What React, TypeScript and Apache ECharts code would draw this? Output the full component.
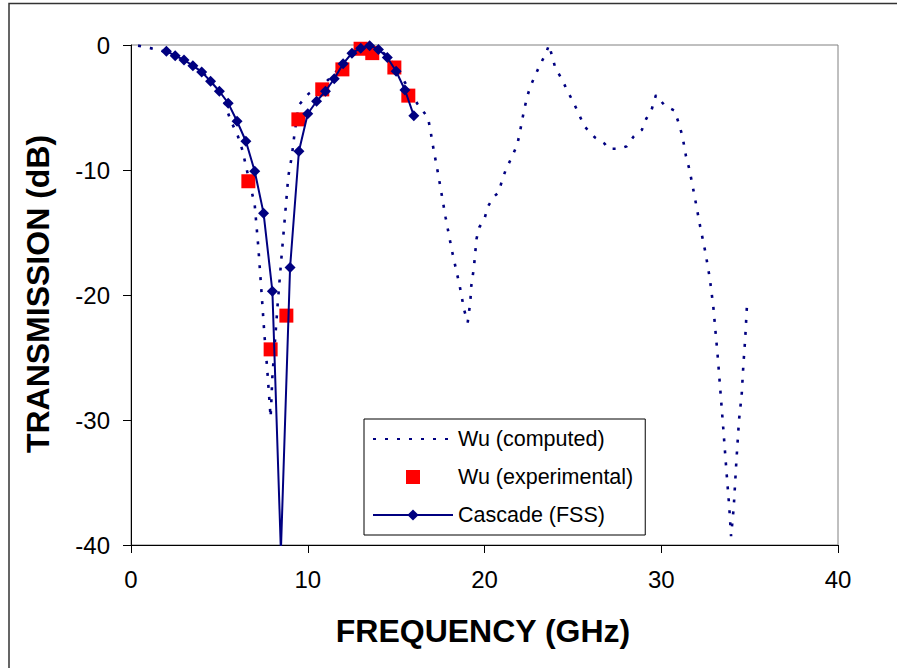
import { useEffect, useRef } from "react";
import * as echarts from "echarts";

const FONT = "'Liberation Sans', Arial, sans-serif";

const seriesNames = ["Wu (computed)", "Wu (experimental)", "Cascade (FSS)"];

const computedFreq = [
  0.4, 1.1, 1.7, 2.2, 2.7, 3.2, 3.7, 4.2, 4.7, 5.2, 5.6, 6.05, 6.3, 7.0, 7.2, 7.4, 7.55, 7.7, 7.9,
  8.0, 8.3, 8.5, 8.7, 8.9, 9.1, 9.25, 9.5, 10.05, 10.6, 11.0, 11.5, 12.0, 12.5, 13.0, 13.5, 14.0,
  14.5, 15.0, 15.5, 16.2, 16.8, 16.95, 17.05, 17.4, 17.8, 18.15, 18.6, 18.85, 19.05, 19.2, 19.25,
  19.4, 19.55, 19.7, 20.0, 20.2, 20.55, 20.8, 21.0, 21.2, 21.5, 21.85, 22.0, 22.2, 22.4, 22.6,
  22.85, 23.15, 23.45, 23.65, 24.0, 24.4, 24.7, 25.0, 25.3, 25.65, 26.25, 26.8, 27.0, 27.65,
  28.05, 28.45, 28.9, 29.15, 29.45, 29.7, 30.2, 30.75, 31.0, 31.2, 31.4, 31.6, 31.9, 32.2, 32.5,
  32.75, 32.95, 33.2, 33.5, 33.7, 33.85, 33.95, 34.1, 34.25, 34.4, 34.55, 34.65, 34.75, 34.85,
];
const computedDb = [
  -0.05, -0.25, -0.45, -0.65, -1.0, -1.35, -1.8, -2.4, -3.2, -4.2, -5.9, -7.3, -8.4, -12.8, -16.1,
  -20.1, -23.2, -25.8, -29.8, -26.5, -20.7, -17.2, -13.9, -10.5, -8.9, -7.1, -4.8, -3.9, -3.4,
  -3.0, -2.3, -1.5, -0.7, -0.2, -0.05, -0.3, -0.9, -1.8, -3.0, -4.7, -5.8, -6.9, -7.8, -10.5,
  -13.8, -16.4, -19.3, -21.2, -22.2, -20.5, -19.3, -17.8, -15.5, -14.6, -13.9, -12.9, -12.1,
  -11.8, -10.8, -10.0, -9.1, -8.0, -7.0, -5.5, -4.2, -3.3, -2.5, -1.55, -0.75, 0, -1.8, -2.8,
  -3.7, -4.5, -5.4, -6.5, -7.4, -7.9, -8.3, -8.3, -8.1, -7.3, -6.8, -5.9, -5.2, -4.0, -4.85,
  -5.25, -6.3, -7.3, -8.9, -10.0, -12.2, -14.5, -16.6, -18.7, -21.0, -25.0, -30.5, -34.3, -37.0,
  -39.3, -37.0, -33.3, -30.0, -28.0, -25.5, -23.5, -20.8,
];

const experimentalFreq = [6.64, 7.9, 8.79, 9.47, 10.82, 11.96, 12.99, 13.65, 14.9, 15.69];
const experimentalDb = [-10.9, -24.35, -21.65, -5.95, -3.55, -1.95, -0.3, -0.65, -1.8, -4.05];

const cascadeFreq = [
  2.0, 2.5, 3.0, 3.5, 4.0, 4.5, 5.0, 5.5, 6.0, 6.5, 7.0, 7.5, 8.0, 8.48, 9.0, 9.5, 10.0, 10.5,
  11.0, 11.5, 12.0, 12.5, 13.0, 13.5, 14.0, 14.5, 15.0, 15.5, 16.0,
];
const cascadeDb = [
  -0.5, -0.85, -1.2, -1.65, -2.15, -2.9, -3.7, -4.65, -6.1, -7.7, -10.1, -13.45, -19.7, -40.5,
  -17.8, -8.5, -5.5, -4.5, -3.7, -2.7, -1.5, -0.65, -0.25, -0.05, -0.35, -1.0, -2.1, -3.6, -5.65,
];

const xTicks = { min: 0, max: 40, interval: 10 };
const yTicks = { min: -40, max: 0, interval: 10 };

const pairs = (xs: number[], ys: number[]) => xs.map((x, i) => [x, ys[i]]);

export default function App() {
  const ref = useRef<HTMLDivElement>(null);
  useEffect(() => {
    const chart = echarts.init(ref.current!, null, { renderer: "svg" });
    const axisCommon = {
      type: "value",
      axisLine: { show: true, onZero: false, lineStyle: { color: "#000", width: 1 } },
      axisTick: { show: true, length: 8, inside: false, lineStyle: { color: "#000", width: 1 } },
      splitLine: { show: false },
    };
    chart.setOption({
      animation: false,
      backgroundColor: "#fff",
      grid: {
        left: 131,
        top: 45,
        width: 707,
        height: 500,
        show: true,
        borderColor: "#808080",
        borderWidth: 1,
        backgroundColor: "transparent",
      },
      xAxis: {
        ...axisCommon,
        ...xTicks,
        axisLabel: { fontSize: 24, color: "#000", fontFamily: FONT, margin: 22 },
      },
      yAxis: {
        ...axisCommon,
        ...yTicks,
        axisLabel: { fontSize: 24, color: "#000", fontFamily: FONT, margin: 21 },
      },
      legend: {
        orient: "vertical",
        left: 364,
        top: 419,
        padding: [8, 12, 8, 8],
        itemWidth: 80,
        itemHeight: 14,
        itemGap: 14,
        borderColor: "#000",
        borderWidth: 1,
        backgroundColor: "#fff",
        textStyle: { fontSize: 21.5, color: "#000", fontFamily: FONT, lineHeight: 24 },
        data: [
          { name: seriesNames[0], itemStyle: { color: "rgba(0,0,0,0)", borderWidth: 0 } },
          { name: seriesNames[1], icon: "path://M0,0H10V10H0Z" },
          { name: seriesNames[2] },
        ],
      },
      series: [
        {
          name: seriesNames[0],
          type: "line",
          data: pairs(computedFreq, computedDb),
          symbol: "none",
          lineStyle: { color: "#000080", width: 2.6, type: [3, 9] },
          itemStyle: { color: "#000080" },
          z: 2,
        },
        {
          name: seriesNames[1],
          type: "scatter",
          data: pairs(experimentalFreq, experimentalDb),
          symbol: "rect",
          symbolSize: 14,
          itemStyle: { color: "#ff0000", opacity: 1 },
          z: 3,
        },
        {
          name: seriesNames[2],
          type: "line",
          data: pairs(cascadeFreq, cascadeDb),
          symbol: "diamond",
          symbolSize: 11,
          showAllSymbol: true,
          lineStyle: { color: "#000080", width: 2 },
          itemStyle: { color: "#000080" },
          z: 4,
        },
      ],
      graphic: [
        {
          type: "rect",
          silent: true,
          shape: { x: 9, y: 3.5, width: 1000, height: 1000 },
          style: { fill: "none", stroke: "#333", lineWidth: 1.5 },
        },
        {
          type: "text",
          x: 483,
          y: 631,
          style: {
            text: "FREQUENCY (GHz)",
            fontSize: 32,
            fontWeight: "bold",
            fontFamily: FONT,
            fill: "#000",
            align: "center",
            verticalAlign: "middle",
          },
        },
        {
          type: "text",
          x: 38,
          y: 294,
          rotation: Math.PI / 2,
          style: {
            text: "TRANSMISSION (dB)",
            fontSize: 32,
            fontWeight: "bold",
            fontFamily: FONT,
            fill: "#000",
            align: "center",
            verticalAlign: "middle",
          },
        },
      ],
    });
    return () => chart.dispose();
  }, []);
  return (
    <div
      ref={ref}
      style={{ position: "absolute", left: 0, top: 0, width: 897, height: 668, background: "#fff" }}
    />
  );
}
